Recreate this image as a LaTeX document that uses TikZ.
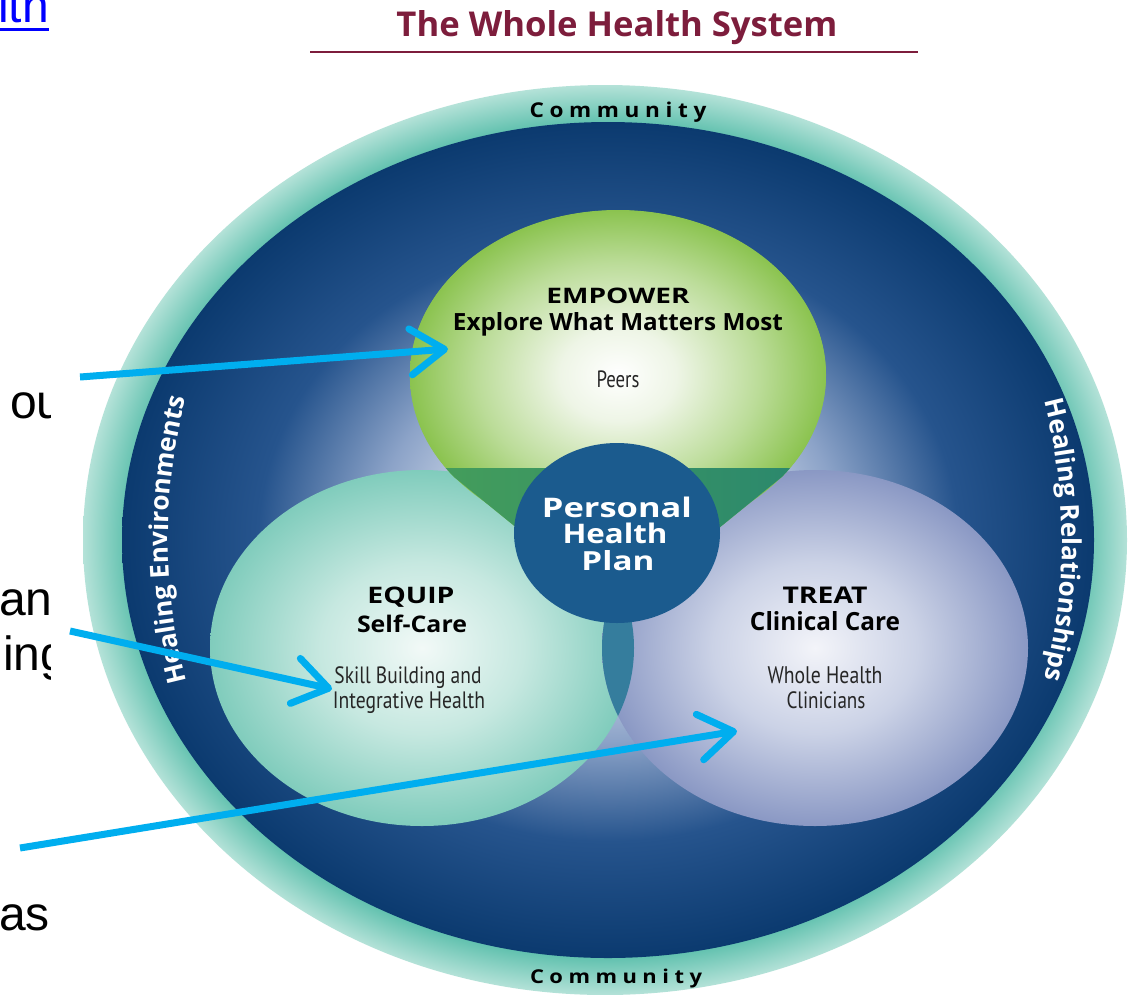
\documentclass[tikz,border=0pt]{standalone}
\usepackage{fontspec}
\usepackage{graphicx}
\setmainfont{Liberation Sans}
\newfontfamily\osfont{Open Sans}
\newfontfamily\ptfont{PT Sans}
\usetikzlibrary{arrows.meta,decorations.text,fadings,calc}

\definecolor{ringA}{HTML}{5CBFAC}
\definecolor{ringB}{HTML}{B4E2D8}
\definecolor{navyA}{HTML}{0B3A6F}
\definecolor{navyB}{HTML}{26548D}
\definecolor{glowA}{HTML}{DCE3EF}
\definecolor{glowB}{HTML}{8CA3C8}
\definecolor{grnA}{HTML}{EEF5E6}
\definecolor{grnB}{HTML}{BBDC98}
\definecolor{grnC}{HTML}{8BC34F}
\definecolor{vA}{HTML}{449D5B}
\definecolor{vB}{HTML}{2B886D}
\definecolor{eqA}{HTML}{F2F9F7}
\definecolor{eqB}{HTML}{C6E8E0}
\definecolor{eqC}{HTML}{80CCBC}
\definecolor{trA}{HTML}{F3F4F9}
\definecolor{trB}{HTML}{CBD2E6}
\definecolor{trC}{HTML}{8A98C4}
\definecolor{lens}{HTML}{357D9D}
\definecolor{phpblue}{HTML}{1B5B8E}
\definecolor{arrowblue}{HTML}{00AEEF}
\definecolor{linkblue}{HTML}{0000FF}
\definecolor{maroon}{HTML}{7D1D3C}

\pgfdeclareradialshading{ringshade}{\pgfpoint{0bp}{0bp}}{color(0bp)=(ringA); color(22.8bp)=(ringA); color(25bp)=(ringB); color(50bp)=(ringB)}
\pgfdeclareradialshading{navyshade}{\pgfpoint{0bp}{0bp}}{color(0bp)=(white); color(6bp)=(glowA); color(12bp)=(glowB); color(18bp)=(navyB); color(25bp)=(navyA); color(50bp)=(navyA)}
\pgfdeclareradialshading{greenshade}{\pgfpoint{0bp}{0bp}}{color(0bp)=(white); color(7bp)=(grnA); color(17bp)=(grnB); color(25bp)=(grnC); color(50bp)=(grnC)}
\pgfdeclareradialshading{eqshade}{\pgfpoint{0bp}{0bp}}{color(0bp)=(eqA); color(12bp)=(eqB); color(25bp)=(eqC); color(50bp)=(eqC)}
\pgfdeclareradialshading{trshade}{\pgfpoint{0bp}{0bp}}{color(0bp)=(trA); color(12bp)=(trB); color(25bp)=(trC); color(50bp)=(trC)}

\tikzfading[name=fadeends, left color=transparent!100, middle color=transparent!0, right color=transparent!100]

\newcommand{\fitbox}[3]{\resizebox{#1pt}{#2pt}{#3}}
\newcommand{\commword}{C\kern2.5pt o\kern2.5pt m\kern2.5pt m\kern2.5pt u\kern2.5pt n\kern2.5pt i\kern2.5pt t\kern2.5pt y}

\tikzset{
  lbl/.style={inner sep=0pt, anchor=base},
  hd/.style={lbl, font=\osfont\bfseries, text=black},
  sb/.style={lbl, font=\ptfont, text=black!85},
  phpt/.style={lbl, font=\osfont\bfseries, text=white},
  slide/.style={inner sep=0pt, anchor=base west, font=\fontsize{48}{48}\selectfont, text=black},
  callout/.style={draw=arrowblue, line width=7pt, -{Straight Barb[length=34pt, width=46pt, round]}},
  sepline/.style={fill=black!85, path fading=fadeends},
  healtext/.style={decorate, decoration={text along path, text align=center, text={|\osfont\bfseries\fontsize{26}{26}\selectfont\color{white}|#1}}}
}

\begin{document}
\begin{tikzpicture}[x=1pt,y=-1pt]
\useasboundingbox (0,0) rectangle (1140,994);
\fill[white] (0,0) rectangle (1140,994);

% slide text cut off at the left
\begin{scope}
  \clip (0,0) rectangle (50,994);
  \node[slide] (s1) at (10,418) {ou};
  \node[slide] (s2) at (-1,615) {an};
  \node[slide] (s3) at (3,670) {ing};
  \node[slide] (s4) at (-1,930) {as};
\end{scope}
\node[slide, text=linkblue] (link) at (-2,22) {ith};
\draw[linkblue, line width=2.6pt] (0,29.5) -- (49,29.5);

% title
\node[hd, text=maroon] (title) at (617,36) {\fitbox{441}{26}{The Whole Health System}};
\draw[maroon, line width=2.2pt] (310,52) -- (918,52);

% outer ring and inner field
\shade[shading=ringshade] (605,540) ellipse [x radius=522pt, y radius=455pt];
\shade[shading=navyshade] (608,540) ellipse [x radius=486pt, y radius=418pt];

\coordinate (C) at (608,540);
\path[healtext={Healing Environments}] ($(C)+(230:440pt and 500pt)$) arc[start angle=230, end angle=130, x radius=440pt, y radius=500pt];
\path[healtext={Healing Relationships}] ($(C)+(40:454pt and 500pt)$) arc[start angle=40, end angle=-40, x radius=454pt, y radius=500pt];

\node[hd] (comm1) at (618,117) {\fitbox{177}{15.5}{\commword}};
\node[hd] (comm2) at (616,983) {\fitbox{172}{14.5}{\commword}};

% lower circles
\shade[shading=eqshade] (422,648) ellipse [x radius=212pt, y radius=178pt];
\shade[shading=trshade] (815,648) ellipse [x radius=213pt, y radius=178pt];
\begin{scope}
  \clip (422,648) ellipse [x radius=212pt, y radius=178pt];
  \fill[lens] (815,648) ellipse [x radius=213pt, y radius=178pt];
\end{scope}

% green teardrop
\fill[grnC] (618,610) -- (454,477) arc[start angle=218, end angle=-38, x radius=208pt, y radius=165pt] -- cycle;
\shade[shading=greenshade] (618,375) ellipse [x radius=208pt, y radius=165pt];
\begin{scope}
  \clip (618,610) -- (454,477) arc[start angle=218, end angle=-38, x radius=208pt, y radius=165pt] -- cycle;
  \shade[left color=vA, right color=vB] (440,468) rectangle (800,700);
\end{scope}

% personal health plan
\fill[phpblue] (617,533) ellipse [x radius=103pt, y radius=90pt];
\node[phpt] (php1) at (617,517) {\fitbox{150}{20.5}{Personal}};
\node[phpt] (php2) at (615,543) {\fitbox{105}{20.5}{Health}};
\node[phpt] (php3) at (618,570) {\fitbox{73}{20}{Plan}};

% EMPOWER
\node[hd] (emp1) at (618,303) {\fitbox{143}{15.5}{EMPOWER}};
\node[hd] (emp2) at (618,330) {\fitbox{330}{18}{Explore What Matters Most}};
\fill[sepline] (517,348.7) rectangle (727,351.5);
\node[sb] (emp3) at (618,387) {\fitbox{43}{16.7}{Peers}};

% EQUIP
\node[hd] (eq1) at (411,603) {\fitbox{87}{16.5}{EQUIP}};
\node[hd] (eq2) at (412,632) {\fitbox{110}{17.5}{Self-Care}};
\fill[sepline] (307,645.7) rectangle (520,648.5);
\node[sb] (eq3) at (408,683) {\fitbox{147}{16.8}{Skill Building and}};
\node[sb] (eq4) at (409,708) {\fitbox{152}{16.8}{Integrative Health}};

% TREAT
\node[hd] (tr1) at (825,603) {\fitbox{85}{16.5}{TREAT}};
\node[hd] (tr2) at (825,630) {\fitbox{150}{19}{Clinical Care}};
\fill[sepline] (720,645.7) rectangle (933,648.5);
\node[sb] (tr3) at (825,683) {\fitbox{115}{16.8}{Whole Health}};
\node[sb] (tr4) at (826,708) {\fitbox{79}{16.8}{Clinicians}};

% arrows
\coordinate (a1s) at (80,377);
\coordinate (a1e) at (448,349);
\coordinate (a2s) at (70,631);
\coordinate (a2e) at (332,689);
\coordinate (a3s) at (20,848);
\coordinate (a3e) at (737,731);
\draw[callout] (a1s) -- (a1e);
\draw[callout] (a2s) -- (a2e);
\draw[callout] (a3s) -- (a3e);
\end{tikzpicture}
\end{document}
